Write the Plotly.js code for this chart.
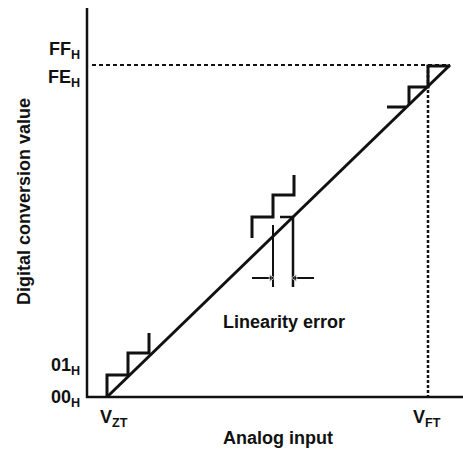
<!DOCTYPE html>
<html>
<head>
<meta charset="utf-8">
<script src="https://cdn.plot.ly/plotly-3.0.1.min.js"></script>
<style>html,body{margin:0;padding:0;background:#fff;}#chart{width:463px;height:459px;}</style>
</head>
<body>
<div id="chart"></div>
<script>
// Schematic A/D conversion characteristic (units: analog input / code steps, arbitrary)
const axisX = [0, 0, 376];
const axisY = [389, 0, 0];

const idealX = [20, 363];
const idealY = [0, 332];

const lowStepX = [20, 20, 41, 41, 62, 62];
const lowStepY = [0, 22, 22, 44, 44, 64];

const midStepX = [165, 165, 186, 186, 207, 207];
const midStepY = [159, 180, 180, 202, 202, 222];

const midIdealX = [193, 206, 206];
const midIdealY = [180, 180, 110];

const midActualX = [186, 186];
const midActualY = [172, 110];

const highStepX = [300, 319, null, 322, 322, 341, 341, 363];
const highStepY = [290, 290, null, 292, 310, 310, 331, 331];

const fullScaleHX = [5, 363];
const fullScaleHY = [332, 332];
const fullScaleVX = [341, 341];
const fullScaleVY = [332, 0];

const arrowLeftX = [165, 184];
const arrowRightX = [227, 208];
const arrowY = [119, 119];

const yTickLabels = ["FF<sub>H</sub>", "FE<sub>H</sub>", "01<sub>H</sub>", "00<sub>H</sub>"];
const yTickPos = [347, 319, 31, -1];
const xTickLabels = ["V<sub>ZT</sub>", "V<sub>FT</sub>"];
const xTickPos = [27, 340];

const xTitle = "Analog input";
const yTitle = "Digital conversion value";
const errLabel = "Linearity error";

const black = "#111";
function line(x, y, w, dash) {
  return {x: x, y: y, type: "scatter", mode: "lines", hoverinfo: "skip",
          line: {color: black, width: w, dash: dash || "solid"}, showlegend: false};
}
function arrow(x, y, sym) {
  return {x: x, y: y, type: "scatter", mode: "lines+markers", hoverinfo: "skip", showlegend: false,
          line: {color: black, width: 2},
          marker: {symbol: ["circle", sym], size: [0, 7], color: black}};
}

const data = [
  line(axisX, axisY, 2.5),
  line(fullScaleHX, fullScaleHY, 2, "4px,3px"),
  line(fullScaleVX, fullScaleVY, 2.5, "3px,2px"),
  line(idealX, idealY, 3),
  line(lowStepX, lowStepY, 3),
  line(midStepX, midStepY, 3),
  line(midIdealX, midIdealY, 2.5),
  line(midActualX, midActualY, 2),
  line(highStepX, highStepY, 3),
  arrow(arrowLeftX, arrowY, "triangle-right"),
  arrow(arrowRightX, arrowY, "triangle-left")
];

const font = {family: "Liberation Sans, Arial, sans-serif", size: 18, color: black, weight: "bold"};
const annotations = [];
yTickLabels.forEach((t, i) => annotations.push({x: -5, y: yTickPos[i], xref: "x", yref: "y", text: t,
  showarrow: false, xanchor: "right", yanchor: "middle", font: font}));
xTickLabels.forEach((t, i) => annotations.push({x: xTickPos[i], y: -21, xref: "x", yref: "y", text: t,
  showarrow: false, xanchor: "center", yanchor: "middle", font: font}));
annotations.push({x: 191, y: -41, xref: "x", yref: "y", text: xTitle, showarrow: false, font: font});
annotations.push({x: -63, y: 195, xref: "x", yref: "y", text: yTitle, textangle: -90, showarrow: false, font: font});
annotations.push({x: 197, y: 75, xref: "x", yref: "y", text: errLabel, showarrow: false, font: font});

const layout = {
  width: 463, height: 459,
  margin: {l: 0, r: 0, t: 0, b: 0},
  paper_bgcolor: "#fff", plot_bgcolor: "#fff",
  xaxis: {range: [-87, 376], visible: false, fixedrange: true},
  yaxis: {range: [-62, 397], visible: false, fixedrange: true},
  annotations: annotations,
  showlegend: false
};
Plotly.newPlot("chart", data, layout, {displayModeBar: false, staticPlot: true});
</script>
</body>
</html>
